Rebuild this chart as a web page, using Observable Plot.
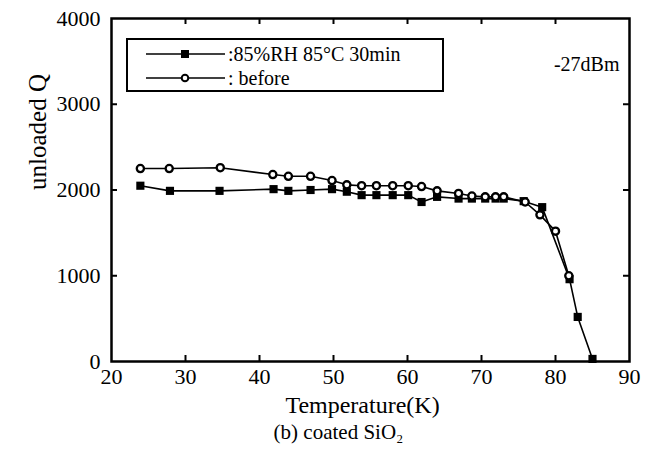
<!DOCTYPE html>
<html><head><meta charset="utf-8">
<script src="https://cdn.jsdelivr.net/npm/d3@7"></script>
<script src="https://cdn.jsdelivr.net/npm/@observablehq/plot@0.6"></script>
<style>
body{margin:0;background:#fff;}
#wrap{position:relative;width:646px;height:457px;}
#legend{position:absolute;left:126px;top:38px;width:314px;height:50px;border:2px solid #000;background:#fff;font-family:"Liberation Serif",serif;font-size:20px;}
#legend svg{position:absolute;left:0;top:0;}
</style></head><body><div id="wrap"></div>
<script>
// Data
const tempsBefore = [23.9, 27.8, 34.7, 41.8, 43.9, 46.9, 49.8, 51.8, 53.8, 55.8, 58.0, 60.1, 61.9, 64.0, 66.9, 68.7, 70.5, 71.9, 73.0, 75.9, 77.9, 80.0, 81.8];
const qBefore     = [2250, 2250, 2260, 2180, 2160, 2160, 2110, 2060, 2050, 2050, 2050, 2050, 2040, 1990, 1960, 1930, 1920, 1920, 1920, 1860, 1710, 1520, 1000];
const tempsAfter  = [23.9, 27.9, 34.6, 41.9, 43.9, 46.9, 49.8, 51.8, 53.8, 55.8, 58.0, 60.1, 61.9, 64.0, 66.9, 68.7, 70.5, 71.9, 73.0, 75.7, 78.2, 81.9, 83.0, 85.0];
const qAfter      = [2050, 1990, 1990, 2010, 1990, 2000, 2010, 1980, 1940, 1940, 1940, 1940, 1860, 1920, 1900, 1900, 1900, 1900, 1900, 1870, 1800, 960, 520, 30];
const xTicks = [20, 30, 40, 50, 60, 70, 80, 90];
const yTicks = [0, 1000, 2000, 3000, 4000];
const seriesLabels = [":85%RH 85\u00B0C 30min", ": before"];
const annotation = "-27dBm";
const xLabel = "Temperature(K)";
const yLabel = "unloaded Q";
const caption = "(b) coated SiO\u2082";

const before = tempsBefore.map((t, i) => ({T: t, Q: qBefore[i]}));
const after = tempsAfter.map((t, i) => ({T: t, Q: qAfter[i]}));

const W = 646, H = 457, mL = 111, mR = 17, mT = 18, mB = 96;
const iW = W - mL - mR, iH = H - mT - mB;
const tk = 6;

const plot = Plot.plot({
  width: W, height: H,
  marginLeft: mL, marginRight: mR, marginTop: mT, marginBottom: mB,
  style: {fontFamily: "Liberation Serif, serif", fontSize: "22px", color: "#000", background: "#fff"},
  x: {domain: [20, 90]},
  y: {domain: [0, 4000]},
  marks: [
    Plot.axisX(xTicks, {tickSize: 0, tickPadding: 7, tickFormat: d3.format("d"), label: null, fontSize: 22}),
    Plot.axisY(yTicks, {tickSize: 0, tickPadding: 11, tickFormat: d3.format("d"), label: null, fontSize: 22}),
    Plot.tickX(xTicks.slice(1, -1), {x: d => d, insetTop: iH - tk, stroke: "#000", strokeWidth: 2}),
    Plot.tickX(xTicks.slice(1, -1), {x: d => d, insetBottom: iH - tk, stroke: "#000", strokeWidth: 2}),
    Plot.tickY(yTicks.slice(1, -1), {y: d => d, insetRight: iW - tk, stroke: "#000", strokeWidth: 2}),
    Plot.tickY(yTicks.slice(1, -1), {y: d => d, insetLeft: iW - tk, stroke: "#000", strokeWidth: 2}),
    Plot.frame({stroke: "#000", strokeWidth: 2.5}),
    Plot.line(after, {x: "T", y: "Q", stroke: "#000", strokeWidth: 1.6}),
    Plot.dot(after, {x: "T", y: "Q", symbol: "square", fill: "#000", r: 4.6}),
    Plot.line(before, {x: "T", y: "Q", stroke: "#000", strokeWidth: 1.6}),
    Plot.dot(before, {x: "T", y: "Q", symbol: "circle", fill: "#fff", stroke: "#000", strokeWidth: 2.3, r: 3.6}),
    Plot.text([annotation], {frameAnchor: "top-right", dx: -10, dy: 38, textAnchor: "end", fontSize: 20}),
    Plot.text([xLabel], {frameAnchor: "bottom", dx: -8, dy: 51, fontSize: 24}),
    Plot.text([caption], {frameAnchor: "bottom", dx: -32, dy: 77, fontSize: 21}),
    Plot.text([yLabel], {frameAnchor: "left", dx: -74, rotate: -90, fontSize: 25})
  ]
});
const wrap = document.getElementById("wrap");
wrap.appendChild(plot);

// Legend overlay
const leg = document.createElement("div");
leg.id = "legend";
const svg = d3.create("svg").attr("width", 314).attr("height", 50);
const rows = [{y: 14, sym: "square"}, {y: 38, sym: "circle"}];
rows.forEach((r, i) => {
  svg.append("line").attr("x1", 18).attr("x2", 97).attr("y1", r.y).attr("y2", r.y).attr("stroke", "#000").attr("stroke-width", 1.6);
  if (r.sym === "square") {
    svg.append("rect").attr("x", 57 - 4).attr("y", r.y - 4).attr("width", 8).attr("height", 8).attr("fill", "#000");
  } else {
    svg.append("circle").attr("cx", 57).attr("cy", r.y).attr("r", 3.3).attr("fill", "#fff").attr("stroke", "#000").attr("stroke-width", 2);
  }
  svg.append("text").attr("x", 100).attr("y", r.y).attr("dy", "0.35em").attr("font-family", "Liberation Serif, serif").attr("font-size", 20).text(seriesLabels[i]);
});
leg.appendChild(svg.node());
wrap.appendChild(leg);
</script>
</body></html>
